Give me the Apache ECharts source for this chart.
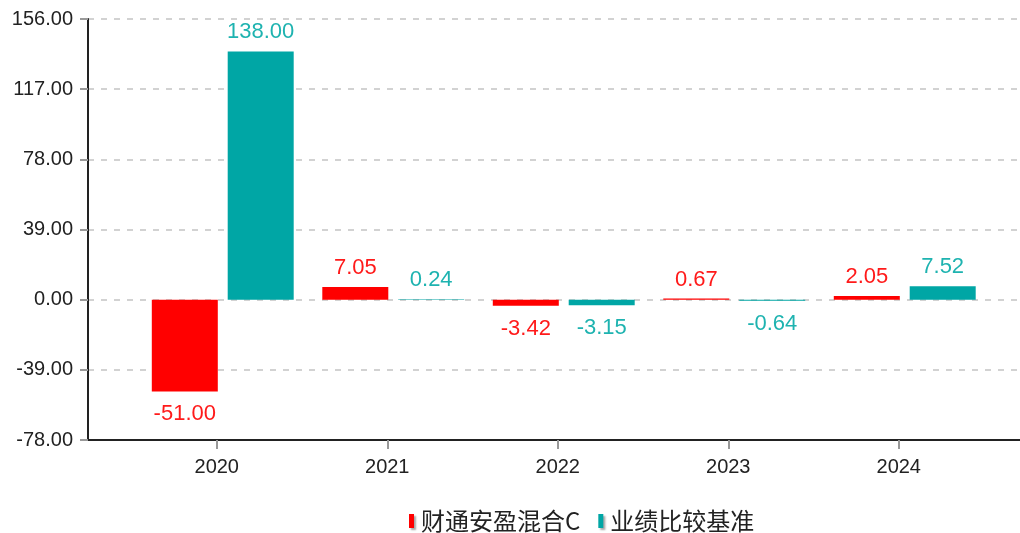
<!DOCTYPE html>
<html>
<head>
<meta charset="utf-8">
<script src="https://cdn.jsdelivr.net/npm/echarts@6/dist/echarts.min.js"></script>
<style>
html, body { margin: 0; padding: 0; background: #fff; }
#chart { width: 1020px; height: 533px; }
</style>
</head>
<body>
<div id="chart"></div>
<script>
// data
var years = ['2020', '2021', '2022', '2023', '2024'];
var fundName = '财通安盈混合C';
var benchName = '业绩比较基准';
var fundValues = [-51.00, 7.05, -3.42, 0.67, 2.05];
var benchValues = [138.00, 0.24, -3.15, -0.64, 7.52];
var yMin = -78, yMax = 156, yStep = 39;

var labelFont = 'Liberation Sans, Arial, sans-serif';

function barData(values) {
  // negative bars get their label underneath
  return values.map(function (v) {
    return v < 0
      ? { value: v, label: { position: 'bottom', distance: 12 } }
      : { value: v, label: { position: 'top', distance: 8 } };
  });
}

function hiddenY(idx) {
  return {
    type: 'value', gridIndex: idx, min: yMin, max: yMax, interval: yStep,
    show: false, splitLine: { show: false }
  };
}

let myChart = echarts.init(document.getElementById('chart'));
let option = {
  backgroundColor: '#ffffff',
  animation: false,
  color: ['#ff0000', '#00a6a5'],
  grid: [
    { left: 88, right: 0, top: 19, bottom: 93 },      // axes frame + split lines
    { left: 131.5, right: 36, top: 19, bottom: 93 },  // year labels / ticks
    { left: 137.5, right: 30, top: 19, bottom: 93 }   // bars
  ],
  legend: {
    left: 404,
    top: 504,
    itemWidth: 5,
    itemHeight: 14,
    itemGap: 18,
    icon: 'rect',
    data: [fundName, benchName],
    itemStyle: {
      shadowColor: 'rgba(0,0,0,0.35)', shadowBlur: 2, shadowOffsetX: 2, shadowOffsetY: 2
    },
    textStyle: {
      fontSize: 24,
      color: '#222',
      fontFamily: 'Noto Sans CJK SC, sans-serif',
      padding: [0, 0, 0, 2]
    }
  },
  xAxis: [
    {
      type: 'category', gridIndex: 0, data: [''],
      axisLine: { show: true, onZero: false, lineStyle: { color: '#222', width: 2 } },
      axisTick: { show: false }, axisLabel: { show: false }, splitLine: { show: false }
    },
    {
      type: 'category', gridIndex: 1, data: years,
      axisLine: { show: false, onZero: false },
      axisTick: { show: true, alignWithLabel: true, length: 9, lineStyle: { color: '#999', width: 2 } },
      axisLabel: { margin: 17, fontSize: 20, color: '#222', fontFamily: labelFont }
    },
    {
      type: 'category', gridIndex: 2, data: years, show: false,
      axisLine: { onZero: false }
    }
  ],
  yAxis: [
    {
      type: 'value', gridIndex: 0, min: yMin, max: yMax, interval: yStep,
      axisLine: { show: true, lineStyle: { color: '#222', width: 2 } },
      axisTick: { show: true, length: 8, lineStyle: { color: '#999', width: 2 } },
      axisLabel: {
        margin: 15, fontSize: 20, color: '#222', fontFamily: labelFont,
        formatter: function (v) { return v.toFixed(2); }
      },
      splitLine: { show: true, lineStyle: { color: '#c4c4c4', type: [6, 7], width: 1.5 } }
    },
    hiddenY(1),
    hiddenY(2)
  ],
  series: [
    {
      name: fundName, type: 'bar', xAxisIndex: 2, yAxisIndex: 2,
      barWidth: 66, barGap: '15%',
      data: barData(fundValues),
      label: {
        show: true, fontSize: 22, color: '#ff1a1a', fontFamily: labelFont,
        formatter: function (p) { return p.value.toFixed(2); }
      }
    },
    {
      name: benchName, type: 'bar', xAxisIndex: 2, yAxisIndex: 2,
      barWidth: 66, barGap: '15%',
      data: barData(benchValues),
      label: {
        show: true, fontSize: 22, color: '#1eb3b0', fontFamily: labelFont,
        formatter: function (p) { return p.value.toFixed(2); }
      }
    }
  ]
};
myChart.setOption(option);
</script>
</body>
</html>
